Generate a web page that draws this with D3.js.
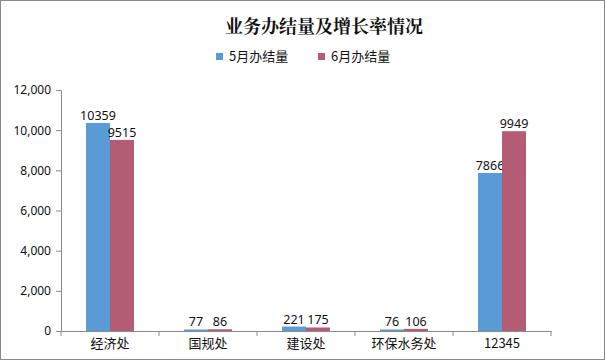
<!DOCTYPE html>
<html>
<head>
<meta charset="utf-8">
<script src="https://cdn.jsdelivr.net/npm/d3@7"></script>
<style>
  body { margin: 0; background: #fff; }
</style>
</head>
<body>
<div id="chart"></div>
<script>
const categories = ["经济处", "国规处", "建设处", "环保水务处", "12345"];
const seriesNames = ["5月办结量", "6月办结量"];
const may = [10359, 77, 221, 76, 7866];
const june = [9515, 86, 175, 106, 9949];
const yTicks = [0, 2000, 4000, 6000, 8000, 10000, 12000];
const colors = ["#5b9bd5", "#b45c74"];

const numFont = "'Noto Sans', 'Open Sans', sans-serif";
const cjkFont = "'Noto Sans CJK SC', sans-serif";

const width = 606, height = 361;
const margin = { top: 90, right: 55, bottom: 30, left: 61 };

const svg = d3.select("#chart").append("svg")
  .attr("width", width)
  .attr("height", height);

// outer frame
svg.append("rect")
  .attr("x", 0.5).attr("y", 0.5)
  .attr("width", 604).attr("height", 359)
  .attr("fill", "#fff")
  .attr("stroke", "#8a8a8a");

const x = d3.scaleBand()
  .domain(categories)
  .range([margin.left, margin.left + 490]);

const y = d3.scaleLinear()
  .domain([0, 12000])
  .range([331, 90]);

const barW = 24;
const data = categories.map((c, i) => ({ cat: c, vals: [may[i], june[i]] }));

const g = svg.append("g");

data.forEach(d => {
  d.vals.forEach((v, k) => {
    const bx = x(d.cat) + x.bandwidth() / 2 - barW + k * barW;
    g.append("rect")
      .attr("x", bx)
      .attr("y", y(v))
      .attr("width", barW)
      .attr("height", y(0) - y(v))
      .attr("fill", colors[k]);
    g.append("text")
      .attr("x", bx + barW / 2)
      .attr("y", y(v) - 3)
      .attr("text-anchor", "middle")
      .style("font-size", "12.5px")
      .style("font-family", numFont)
      .attr("fill", "#111")
      .text(v);
  });
});

// y axis
const yAxis = svg.append("g")
  .attr("transform", `translate(${margin.left},0)`)
  .call(d3.axisLeft(y).tickValues(yTicks).tickSize(5).tickSizeOuter(0).tickPadding(5).tickFormat(d3.format(",")));
yAxis.select(".domain").attr("stroke", "#8a8a8a");
yAxis.selectAll(".tick line").attr("stroke", "#8a8a8a");
yAxis.selectAll("text").style("font-size", "12px").attr("fill", "#111").style("font-family", numFont);

// x axis
const xAxis = svg.append("g")
  .attr("transform", `translate(0,${y(0)})`)
  .call(d3.axisBottom(x).tickSize(0).tickPadding(8));
xAxis.select(".domain").attr("stroke", "#8a8a8a");
xAxis.selectAll("text").style("font-size", "13px").attr("fill", "#111").style("font-family", cjkFont);
// separators between categories
const seps = categories.map(c => x(c)).concat([x.range()[1]]);
xAxis.selectAll(".sep")
  .data(seps)
  .enter().append("line")
  .attr("x1", d => d).attr("x2", d => d)
  .attr("y1", 0).attr("y2", 5)
  .attr("stroke", "#8a8a8a");

// title
svg.append("text")
  .attr("x", 324)
  .attr("y", 33)
  .attr("text-anchor", "middle")
  .style("font-size", "18px")
  .style("font-weight", "bold")
  .style("font-family", "'Noto Serif CJK SC', 'Noto Sans CJK SC', serif")
  .attr("fill", "#111")
  .text("业务办结量及增长率情况");

// legend
const legendX = [216, 318];
seriesNames.forEach((name, k) => {
  svg.append("rect")
    .attr("x", legendX[k]).attr("y", 53)
    .attr("width", 7).attr("height", 7)
    .attr("fill", colors[k]);
  svg.append("text")
    .attr("x", legendX[k] + 13)
    .attr("y", 61)
    .style("font-size", "13px")
    .style("font-family", cjkFont)
    .attr("fill", "#111")
    .text(name);
});
</script>
</body>
</html>
